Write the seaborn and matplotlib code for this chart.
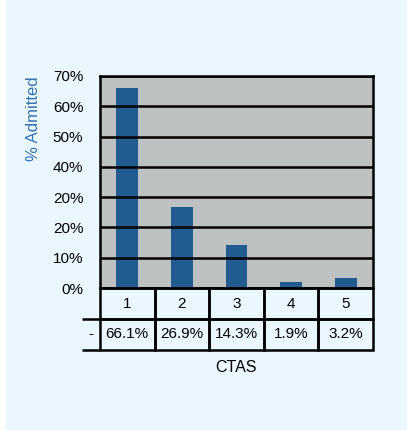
import matplotlib
matplotlib.use("Agg")
import matplotlib.pyplot as plt
import seaborn as sns
from matplotlib.patches import Rectangle

# dati
ctas = ["1", "2", "3", "4", "5"]
admitted = [66.1, 26.9, 14.3, 1.9, 3.2]
admitted_labels = ["66.1%", "26.9%", "14.3%", "1.9%", "3.2%"]
ytick_values = [0, 10, 20, 30, 40, 50, 60, 70]
ytick_labels = ["0%", "10%", "20%", "20%", "40%", "50%", "60%", "70%"]

sns.set_style("white")
plt.rcParams["font.family"] = ["Liberation Sans", "DejaVu Sans"]
plt.rcParams["text.color"] = "black"
plt.rcParams["ytick.color"] = "black"

bg = "#eaf7fe"
fig = plt.figure(figsize=(4.07, 4.30), dpi=100, facecolor="white")
fig.patches.append(Rectangle((6 / 407, 0), 1, 1, transform=fig.transFigure,
                             facecolor=bg, edgecolor="none", zorder=-10))

ax = fig.add_axes([100 / 407, 1 - 288 / 430, 273 / 407, 212 / 430])
ax.set_facecolor("#bdc1c1")

sns.barplot(x=ctas, y=admitted, color="#225b8f", width=0.4, saturation=1,
            linewidth=0, edgecolor="none", ax=ax, zorder=1)

ax.set_ylim(0, 70)
ax.set_xlim(-0.5, 4.5)
ax.set_yticks(ytick_values)
ax.set_yticklabels(ytick_labels, fontsize=11, color="black")
ax.tick_params(axis="y", length=7, width=1.8, color="black", pad=5)
ax.set_xticks([])
ax.set_xlabel("")
ax.grid(axis="y", color="black", linewidth=1.8, zorder=3)
ax.set_axisbelow(False)
for s in ax.spines.values():
    s.set_color("black")
    s.set_linewidth(1.8)

ax.set_ylabel("% Admitted", color="#3473ad", fontsize=12)
ax.yaxis.set_label_coords(-0.215, 0.80)

# tabella sotto il grafico
cell_text = [[""] + ctas, ["-"] + admitted_labels]
w0 = 18 / 291
wc = (1 - w0) / 5
tab = ax.table(cellText=cell_text, colWidths=[w0] + [wc] * 5, cellLoc="center",
               bbox=[-18 / 273, -62 / 212, 291 / 273, 62 / 212])
tab.auto_set_font_size(False)
tab.set_fontsize(11)
for (r, c), cell in tab.get_celld().items():
    cell.set_facecolor("none")
    cell.set_linewidth(1.8)
    cell.get_text().set_color("black")
    if c == 0:
        cell.visible_edges = "" if r == 0 else "TB"

fig.text(236 / 407, 1 - 368 / 430, "CTAS", ha="center", va="center", fontsize=11.5)

plt.savefig("out.png", dpi=100, facecolor=fig.get_facecolor())
